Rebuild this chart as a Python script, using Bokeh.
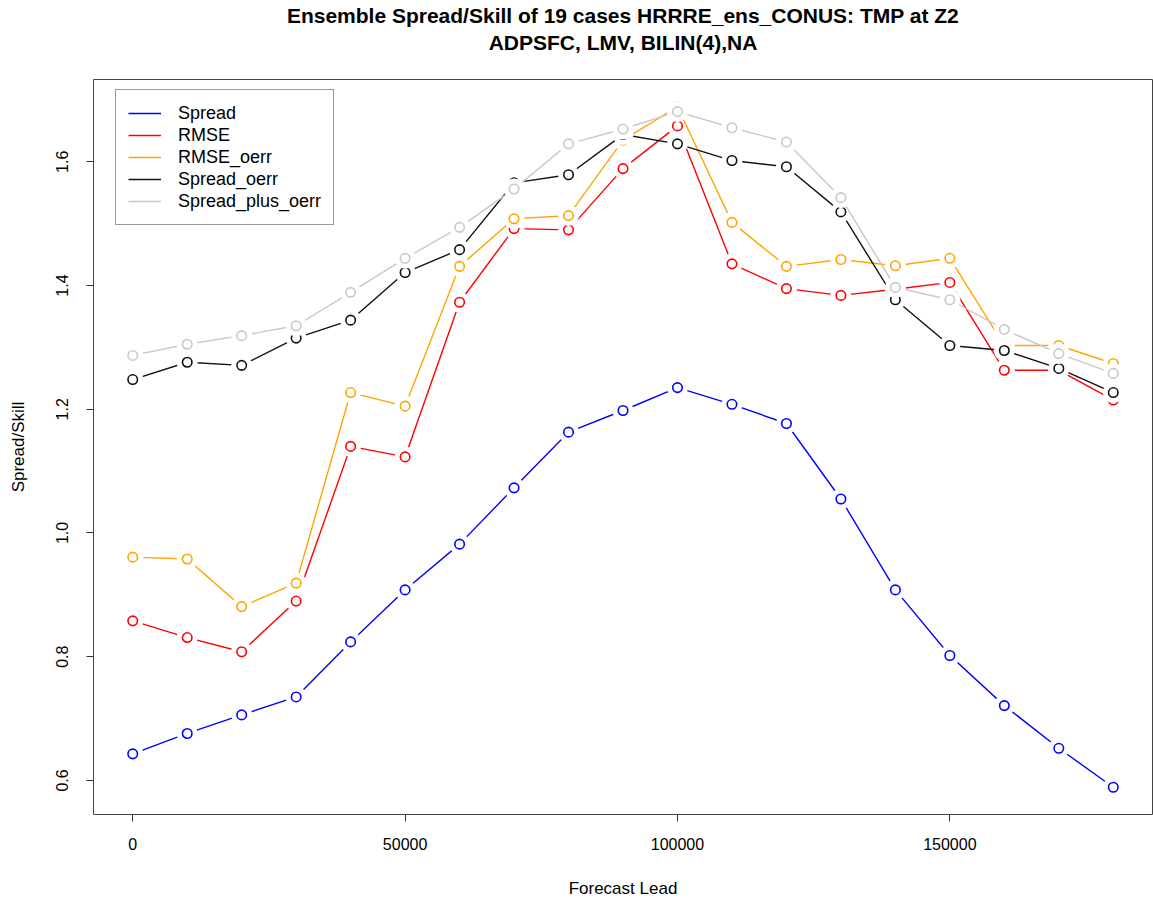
from bokeh.plotting import figure
from bokeh.models import Range1d, FixedTicker, Legend, LegendItem, Title
from bokeh.embed import file_html
from bokeh.resources import INLINE

lead = [0, 10000, 20000, 30000, 40000, 50000, 60000, 70000, 80000, 90000,
        100000, 110000, 120000, 130000, 140000, 150000, 160000, 170000, 180000]

spread = [0.643, 0.676, 0.706, 0.735, 0.824, 0.908, 0.982, 1.073, 1.163, 1.198,
          1.235, 1.208, 1.177, 1.055, 0.908, 0.802, 0.721, 0.652, 0.589]
rmse = [0.858, 0.831, 0.808, 0.890, 1.140, 1.123, 1.373, 1.492, 1.490, 1.589,
        1.658, 1.435, 1.395, 1.384, 1.394, 1.405, 1.263, 1.263, 1.215]
rmse_oerr = [0.961, 0.958, 0.881, 0.919, 1.227, 1.205, 1.431, 1.508, 1.513, 1.635,
             1.689, 1.502, 1.431, 1.442, 1.432, 1.444, 1.303, 1.303, 1.274]
spread_oerr = [1.248, 1.276, 1.271, 1.315, 1.344, 1.421, 1.458, 1.566, 1.579, 1.644,
               1.629, 1.602, 1.592, 1.519, 1.377, 1.303, 1.295, 1.266, 1.227]
spread_plus_oerr = [1.287, 1.305, 1.319, 1.335, 1.389, 1.444, 1.494, 1.556, 1.629, 1.653,
                    1.681, 1.655, 1.632, 1.542, 1.397, 1.377, 1.329, 1.290, 1.258]

series_names = ["Spread", "RMSE", "RMSE_oerr", "Spread_oerr", "Spread_plus_oerr"]
series_values = [spread, rmse, rmse_oerr, spread_oerr, spread_plus_oerr]
series_colors = ["#0000FF", "#FF0000", "#FFA500", "#111111", "#C8C8C8"]

x_ticks = [0, 50000, 100000, 150000]
x_tick_labels = ["0", "50000", "100000", "150000"]
y_ticks = [0.6, 0.8, 1.0, 1.2, 1.4, 1.6]
y_tick_labels = ["0.6", "0.8", "1.0", "1.2", "1.4", "1.6"]

title_line1 = "Ensemble Spread/Skill of 19 cases HRRRE_ens_CONUS: TMP at Z2"
title_line2 = "ADPSFC, LMV, BILIN(4),NA"

FONT = "Liberation Sans"

allv = [v for s in series_values for v in s]
xpad = (max(lead) - min(lead)) * 0.04
ypad = (max(allv) - min(allv)) * 0.04

p = figure(width=1153, height=902, output_backend="svg", toolbar_location=None,
           x_range=Range1d(min(lead) - xpad, max(lead) + xpad),
           y_range=Range1d(min(allv) - ypad, max(allv) + ypad),
           min_border_left=93, min_border_right=1, min_border_top=77, min_border_bottom=88)

p.title.visible = False
# spacer between frame and the title block
p.add_layout(Title(text=" ", text_font=FONT, text_font_size="18px",
                   text_line_height=1.0, standoff=2), "above")
p.add_layout(Title(text=title_line2, align="center",
                   text_font=FONT, text_font_size="21px", text_font_style="bold",
                   text_color="#000000", standoff=3, text_line_height=1.0), "above")
p.add_layout(Title(text=title_line1, align="center",
                   text_font=FONT, text_font_size="21px", text_font_style="bold",
                   text_color="#000000", standoff=2, text_line_height=1.0), "above")

p.xgrid.visible = False
p.ygrid.visible = False
p.outline_line_color = "#444444"
p.outline_line_width = 1
p.background_fill_color = "white"
p.border_fill_color = "white"

for ax in (p.xaxis[0], p.yaxis[0]):
    ax.axis_line_color = None
    ax.major_tick_out = 7
    ax.major_tick_in = 0
    ax.minor_tick_line_color = None
    ax.major_tick_line_color = "#333333"
    ax.major_label_text_font = FONT
    ax.major_label_text_font_size = "16px"
    ax.major_label_text_color = "#000000"
    ax.axis_label_text_font = FONT
    ax.axis_label_text_font_size = "17px"
    ax.axis_label_text_font_style = "normal"
    ax.axis_label_text_color = "#000000"

p.xaxis[0].ticker = FixedTicker(ticks=x_ticks)
p.xaxis[0].major_label_overrides = dict(zip(x_ticks, x_tick_labels))
p.xaxis[0].major_label_standoff = 16
p.xaxis[0].axis_label = "Forecast Lead"
p.xaxis[0].axis_label_standoff = 26

p.yaxis[0].ticker = FixedTicker(ticks=y_ticks)
p.yaxis[0].major_label_overrides = dict(zip(y_ticks, y_tick_labels))
p.yaxis[0].major_label_orientation = "vertical"
p.yaxis[0].major_label_standoff = 18
p.yaxis[0].axis_label = "Spread/Skill"
p.yaxis[0].axis_label_standoff = 26

items = []
for name, vals, col in zip(series_names, series_values, series_colors):
    r = p.line(lead, vals, line_color=col, line_width=1.4)
    p.scatter(lead, vals, size=21, fill_color="white", line_color=None, marker="circle")
    p.scatter(lead, vals, size=9.5, fill_color=None, line_color=col, line_width=1.6,
              marker="circle")
    items.append(LegendItem(label=name, renderers=[r]))

legend = Legend(items=items, location=(22, 589), orientation="vertical",
                label_text_font=FONT, label_text_font_size="18px",
                label_text_color="#000000", glyph_width=33, glyph_height=22,
                label_height=22, label_standoff=17, spacing=0, padding=12,
                border_line_color="#333333", border_line_width=1,
                background_fill_color="white", background_fill_alpha=1.0,
                margin=0)
p.add_layout(legend, "center")

open("out.html", "w").write(file_html(p, INLINE))
